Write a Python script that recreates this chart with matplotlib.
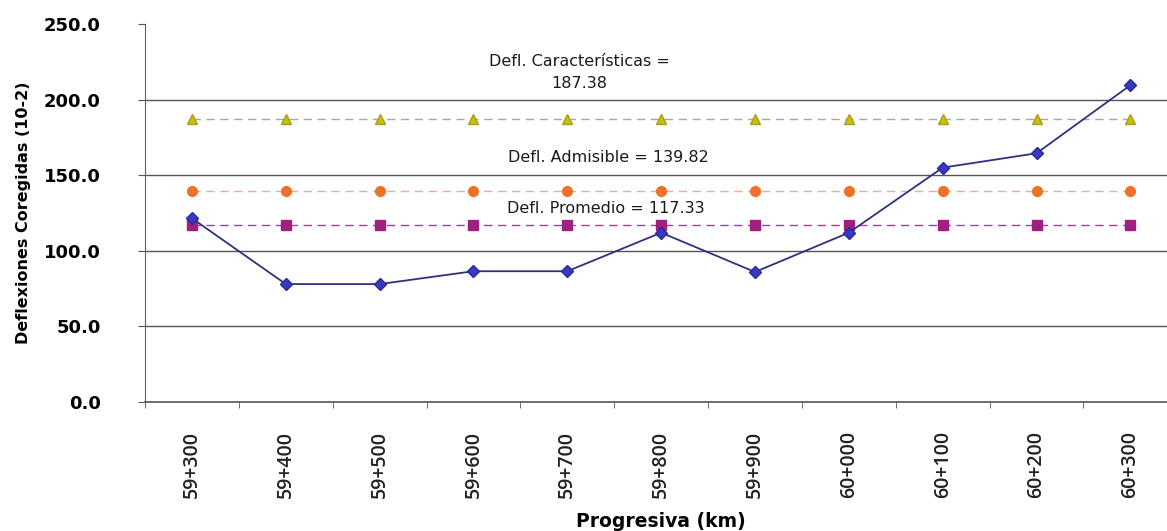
import matplotlib
matplotlib.use('Agg')
import matplotlib.pyplot as plt
import numpy as np

plt.rcParams['font.family'] = ['DejaVu Sans']

# datos
progresivas = ['59+300', '59+400', '59+500', '59+600', '59+700', '59+800',
               '59+900', '60+000', '60+100', '60+200', '60+300']
deflexiones = [121.5, 78.0, 78.0, 86.5, 86.5, 112.0, 86.0, 112.0, 155.0, 164.5, 209.5]
defl_caract = 187.38
defl_admis = 139.82
defl_prom = 117.33

x = np.arange(len(progresivas))

fig = plt.figure(figsize=(11.67, 5.31), dpi=100)
ax = fig.add_axes([0.1243, 0.2429, 0.8845, 0.7119])

# lineas de cuadricula
for g in [50, 100, 150, 200]:
    ax.axhline(g, color='#555555', linewidth=1.0, zorder=1)

ax.plot(x, [defl_caract] * len(x), color='#A8A8A0', linestyle=(0, (6, 4)), linewidth=1,
        marker='^', markersize=7, markerfacecolor='#C8C010', markeredgecolor='#A8A010', zorder=2)
ax.plot(x, [defl_admis] * len(x), color='#F0A8A0', linestyle=(0, (6, 4)), linewidth=1,
        marker='o', markersize=7, markerfacecolor='#F07028', markeredgecolor='#F07028', zorder=2)
ax.plot(x, [defl_prom] * len(x), color='#A04090', linestyle=(0, (6, 4)), linewidth=1,
        marker='s', markersize=6.5, markerfacecolor='#A0207F', markeredgecolor='#A0207F', zorder=2)
ax.plot(x, deflexiones, color='#303080', linewidth=1.3, marker='D', markersize=6,
        markerfacecolor='#3838C0', markeredgecolor='#2828A0', zorder=3)

# etiquetas de las lineas
ax.text(4.13, 218, 'Defl. Características =\n187.38', ha='center', va='center',
        fontsize=11.5, linespacing=1.55, color='#1A1A1A')
ax.text(4.44, 161.5, 'Defl. Admisible = 139.82', ha='center', va='center', fontsize=11.5, color='#1A1A1A')
ax.text(4.41, 128, 'Defl. Promedio = 117.33', ha='center', va='center', fontsize=11.5, color='#1A1A1A')

ax.set_xlim(-0.5, 10.5)
ax.set_ylim(0, 250)
ax.set_yticks([0, 50, 100, 150, 200, 250])
ax.set_yticklabels(['%.1f' % v for v in [0, 50, 100, 150, 200, 250]], fontsize=13, fontweight='bold')
ax.set_xticks(x)
ax.set_xticklabels(progresivas, rotation=90, fontsize=14, family='Open Sans',
                   fontweight='semibold', color='#222222')
ax.set_xticks(np.arange(-0.5, 10.6, 1), minor=True)
ax.tick_params(axis='x', which='major', length=0, pad=21)
ax.tick_params(axis='x', which='minor', length=4, color='#555555')
ax.tick_params(axis='y', length=5, color='#555555', pad=27)

for s in ['top', 'right']:
    ax.spines[s].set_visible(False)
ax.spines['left'].set_color('#6A5A70')
ax.spines['bottom'].set_color('#555555')
ax.spines['bottom'].set_linewidth(1.2)

ax.set_ylabel('Deflexiones Coregidas (10-2)', fontsize=11.5, fontweight='bold', labelpad=9)
ax.set_xlabel('Progresiva (km)', fontsize=13.5, fontweight='bold', labelpad=10)

plt.savefig('out.png', dpi=100)
